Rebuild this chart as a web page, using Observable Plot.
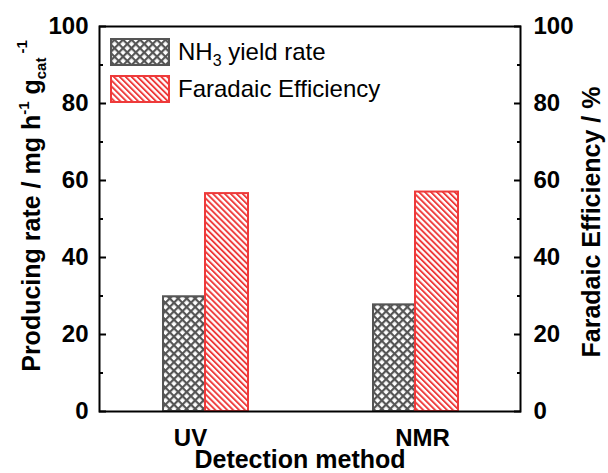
<!DOCTYPE html>
<html><head><meta charset="utf-8">
<script src="https://cdn.jsdelivr.net/npm/d3@7"></script>
<script src="https://cdn.jsdelivr.net/npm/@observablehq/plot@0.6"></script>
<style>body{margin:0;background:#fff;}</style>
</head><body><div id="chart"></div>
<script>
const methods = ["UV", "NMR"];
const nh3Rate = [29.8, 27.7];
const faradaicEff = [56.6, 57.0];
const yTicks = [0, 20, 40, 60, 80, 100];
const yMinorTicks = [10, 30, 50, 70, 90];
const seriesNames = ["NH3 yield rate", "Faradaic Efficiency"];

const font = "'Liberation Sans', Arial, Helvetica, sans-serif";
const gray = "#555555";
const red = "#ee3a3a";

const rateData = methods.map((m, i) => ({method: m, value: nh3Rate[i]}));
const feData = methods.map((m, i) => ({method: m, value: faradaicEff[i]}));

const tickText = {fontSize: 24, fontWeight: "bold", fill: "black", label: null};

const plot = Plot.plot({
  width: 608, height: 473,
  marginLeft: 99, marginRight: 88, marginTop: 26, marginBottom: 62,
  style: {fontFamily: font, background: "white", overflow: "visible", color: "black"},
  x: {domain: methods, padding: 0, axis: null},
  y: {domain: [0, 100], axis: null},
  marks: [
    Plot.barY(rateData, {x: "method", y: "value", insetLeft: 63, insetRight: 105,
      fill: "url(#crossHatch)", stroke: gray, strokeWidth: 2}),
    Plot.barY(feData, {x: "method", y: "value", insetLeft: 105, insetRight: 62,
      fill: "url(#redHatch)", stroke: red, strokeWidth: 2}),
    Plot.axisY({ticks: yTicks, anchor: "left", tickSize: 7, dx: 7, tickPadding: 11, strokeWidth: 2, stroke: "black", ...tickText}),
    Plot.axisY({ticks: yMinorTicks, anchor: "left", tickSize: 4, dx: 4, text: null, strokeWidth: 2, stroke: "black", label: null}),
    Plot.axisY({ticks: yTicks, anchor: "right", tickSize: 7, dx: -7, tickPadding: 13, strokeWidth: 2, stroke: "black", ...tickText}),
    Plot.axisY({ticks: yMinorTicks, anchor: "right", tickSize: 4, dx: -4, text: null, strokeWidth: 2, stroke: "black", label: null}),
    Plot.axisX({ticks: [methods[0]], tickSize: 0, tickPadding: 17, dx: -15, ...tickText}),
    Plot.axisX({ticks: [methods[1]], tickSize: 0, tickPadding: 17, dx: 7, ...tickText}),
    Plot.frame({stroke: "black", strokeWidth: 2})
  ]
});

document.getElementById("chart").appendChild(plot);
const svg = d3.select(plot);

const defs = svg.insert("defs", ":first-child");
const ch = defs.append("pattern").attr("id", "crossHatch").attr("patternUnits", "userSpaceOnUse")
  .attr("width", 6).attr("height", 6).attr("patternTransform", "rotate(45)");
ch.append("rect").attr("width", 6).attr("height", 6).attr("fill", "white");
ch.append("rect").attr("x", 0).attr("y", 0).attr("width", 2.2).attr("height", 6).attr("fill", gray);
ch.append("rect").attr("x", 0).attr("y", 0).attr("width", 6).attr("height", 2.2).attr("fill", gray);
const rh = defs.append("pattern").attr("id", "redHatch").attr("patternUnits", "userSpaceOnUse")
  .attr("width", 4.2).attr("height", 4.2).attr("patternTransform", "rotate(-45)");
rh.append("rect").attr("width", 4.2).attr("height", 4.2).attr("fill", "white");
rh.append("rect").attr("width", 1.9).attr("height", 4.2).attr("fill", red);

// legend
const lg = svg.append("g").attr("font-family", font).attr("font-size", 24).attr("text-anchor", "start").attr("fill", "black");
lg.append("rect").attr("x", 111).attr("y", 39).attr("width", 58).attr("height", 26)
  .attr("fill", "url(#crossHatch)").attr("stroke", gray).attr("stroke-width", 2);
lg.append("rect").attr("x", 111).attr("y", 76).attr("width", 58).attr("height", 26)
  .attr("fill", "url(#redHatch)").attr("stroke", red).attr("stroke-width", 2);
const t1 = lg.append("text").attr("x", 178).attr("y", 60);
t1.append("tspan").text("NH");
t1.append("tspan").attr("font-size", 16).attr("dy", 6).text("3");
t1.append("tspan").attr("dy", -6).text(" yield rate");
lg.append("text").attr("x", 178).attr("y", 97).text(seriesNames[1]);

// axis titles
const tg = svg.append("g").attr("font-family", font).attr("font-weight", "bold").attr("font-size", 25).attr("fill", "black");
const lt = tg.append("text").attr("transform", "translate(40,206) rotate(-90)").attr("text-anchor", "middle");
lt.append("tspan").text("Producing rate / mg h");
lt.append("tspan").attr("font-size", 15).attr("dy", -11).text("-1");
lt.append("tspan").attr("dy", 11).text(" g");
lt.append("tspan").attr("font-size", 15).attr("dy", 6).text("cat");
lt.append("tspan").attr("font-size", 15).attr("dy", -19).attr("dx", 4).text("-1");
tg.append("text").attr("transform", "translate(600,222) rotate(-90)").attr("text-anchor", "middle")
  .text("Faradaic Efficiency / %");
tg.append("text").attr("x", 300).attr("y", 468).attr("text-anchor", "middle").text("Detection method");
</script>
</body></html>
